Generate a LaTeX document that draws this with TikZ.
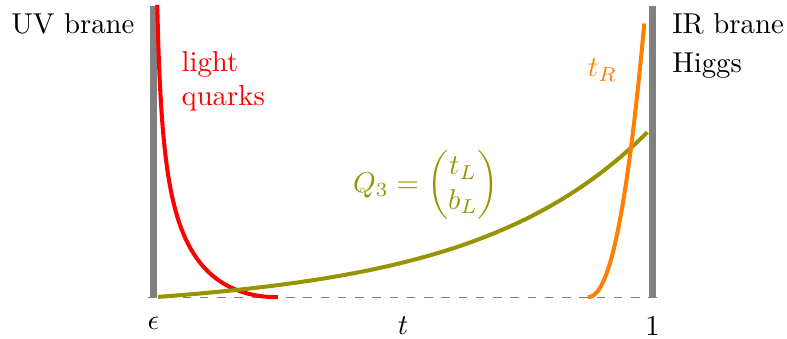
\documentclass[tikz,border=0pt]{standalone}
\usepackage{amsmath}
\usepackage{tikz}
\usetikzlibrary{positioning,calc}
\definecolor{bGray} {HTML}{808080}
\definecolor{qRed}  {HTML}{FF0000}
\definecolor{qOrange}{HTML}{FF8000}
\definecolor{qOlive}{RGB}{152,148,0}

\begin{document}
\begin{tikzpicture}[
  x=61mm, y=35.6mm,
  brane/.style={draw=bGray, line width=2.4pt},
  base/.style={draw=bGray, dashed, line width=0.5pt},
  prof/.style={line width=1.4pt, line join=round, samples=120, smooth},
  lbl/.style={inner sep=0pt, align=left},
]
\useasboundingbox (-0.3076,-0.1409) rectangle (1.2695,1.0206);

% ============================================================ branes
\coordinate (uvb) at (0,0);
\coordinate (uvt) at (0,1);
\coordinate (irb) at (1,0);
\coordinate (irt) at (1,1);
\coordinate (axl) at (-0.011,0);
\coordinate (axr) at (1.011,0);
\draw[base]  (axl) -- (axr);
\draw[brane] (uvb) -- (uvt);
\draw[brane] (irb) -- (irt);

% ---- labels of the branes
\node[lbl, anchor=base east] at (-0.0371,0.906) (uv) {UV brane};
\node[lbl, anchor=base west] at (1.0385,0.906) (ir) {IR brane};
\node[lbl, anchor=base west] at (1.0385,0.770) (higgs) {Higgs};

% ============================================================ profiles
% ---- light quarks, stuck to the UV brane
\draw[prof, qRed, domain=0.0075:0.2495]
  plot (\x, {0.0924/sqrt(\x)*(1-\x/0.2495)^2});
% ---- third generation doublet
\draw[prof, qOlive, domain=0.009:0.991]
  plot (\x, {0.0394*\x + 0.02856*(exp(3*\x)-1)});
% ---- right-handed top, near the IR brane
\draw[prof, qOrange, domain=0.02:1, samples=60]
  plot ({0.868+0.1156*\x}, {0.941*\x*\x*exp(0.3*ln(\x))});

\node[lbl, text=qRed, anchor=north west] at (0.0551,0.846) (lq) {light\\quarks};
\node[text=qOrange, anchor=base] at (0.8998,0.757) (tr) {$t_R$};
\node[text=qOlive] at (0.546,0.385) (q3) {$Q_3 = \begin{pmatrix} t_L \\ b_L \end{pmatrix}$};

% ============================================================ axis
\node[lbl, anchor=north] at (0,-0.0653)   (eps) {$\epsilon$};
\node[lbl, anchor=north] at (0.5,-0.0653) (tt)  {$t$};
\node[lbl, anchor=north] at (1,-0.0653)   (one) {$1$};

\end{tikzpicture}
\end{document}
